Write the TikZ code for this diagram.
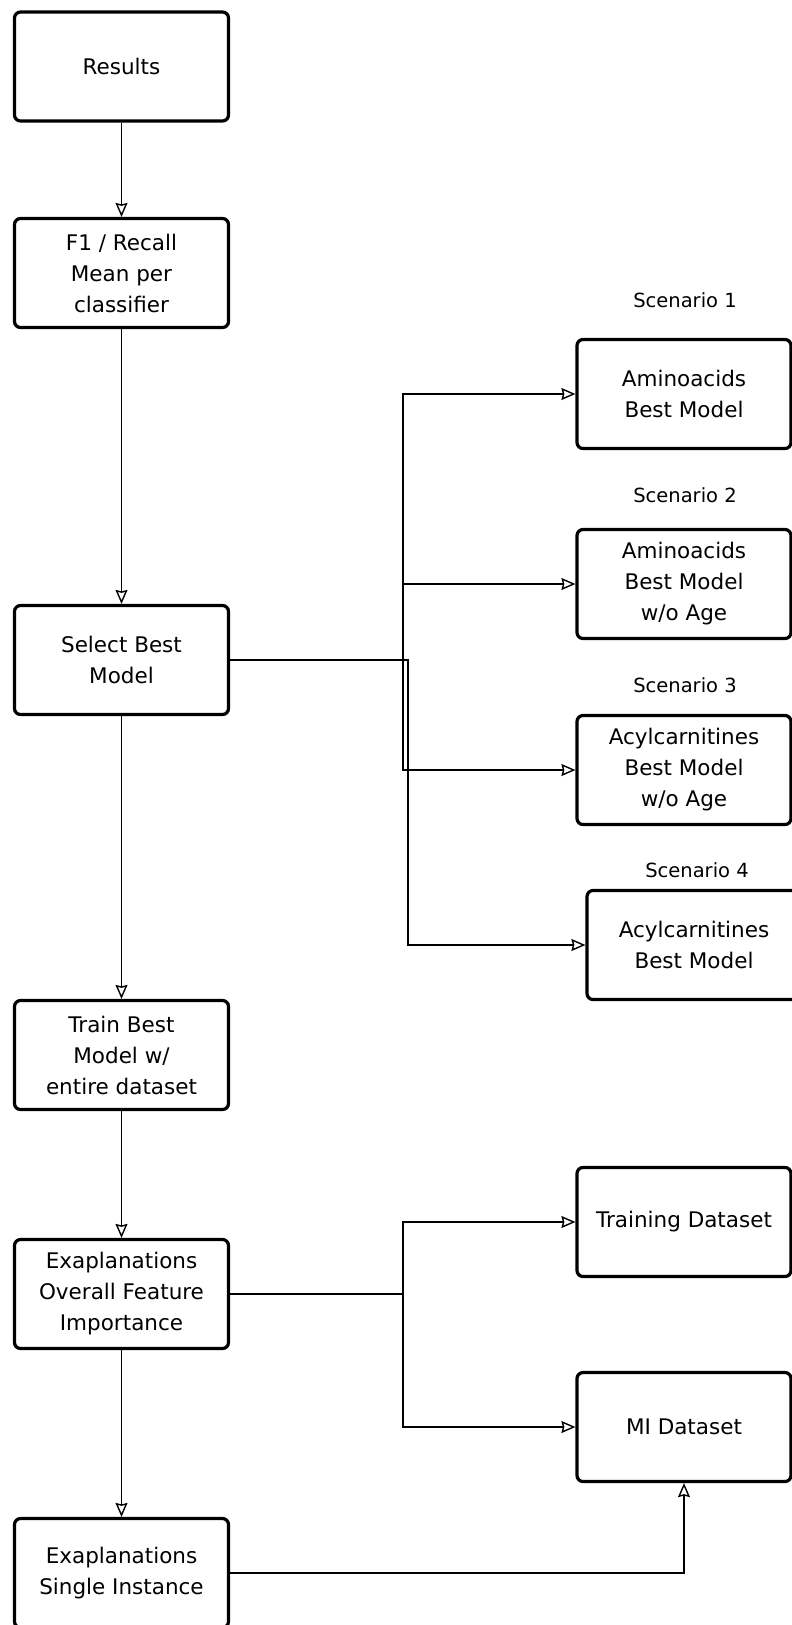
\documentclass[tikz,border=0pt]{standalone}
\usepackage{fontspec}
\setmainfont{DejaVu Sans}
\usetikzlibrary{arrows.meta,calc}
\begin{document}
\begin{tikzpicture}[x=1pt,y=-1pt,
  stepbox/.style={draw=black,line width=3.2pt,rounded corners=6pt,fill=white,
    minimum width=214pt,minimum height=109pt,align=center,inner sep=2pt,
    font=\fontsize{21.5}{31}\selectfont},
  tag/.style={font=\fontsize{19.5}{22}\selectfont},
  link/.style={draw=black,line width=1.4pt,
    -{Stealth[open,inset=1.5pt,length=14pt,width=12pt,line width=1.4pt]}}]
\useasboundingbox (0,0) rectangle (792,1625);
\clip (0,0) rectangle (792,1625);

% main column
\node[stepbox] (res)    at (121.5,66.5) {Results};
\node[stepbox] (f1)     at (121.5,273)  {F1 / Recall\\Mean per\\classifier};
\node[stepbox] (sel)    at (121.5,660)  {Select Best\\Model};
\node[stepbox] (train)  at (121.5,1055) {Train Best\\Model w/\\entire dataset};
\node[stepbox] (overall) at (121.5,1294) {Exaplanations\\Overall Feature\\Importance};
\node[stepbox] (single) at (121.5,1573) {Exaplanations\\Single Instance};

% scenarios
\node[tag] (s1) at (685,300) {Scenario 1};
\node[stepbox] (amino)   at (684,394) {Aminoacids\\Best Model};
\node[tag] (s2) at (685,495) {Scenario 2};
\node[stepbox] (aminoNA) at (684,584) {Aminoacids\\Best Model\\w/o Age};
\node[tag] (s3) at (685,685) {Scenario 3};
\node[stepbox] (acylNA)  at (684,770) {Acylcarnitines\\Best Model\\w/o Age};
\node[tag] (s4) at (697,870) {Scenario 4};
\node[stepbox] (acyl)    at (694,945) {Acylcarnitines\\Best Model};

% datasets
\node[stepbox] (trainds) at (684,1222) {Training Dataset};
\node[stepbox] (mids)    at (684,1427) {MI Dataset};

% branch points
\coordinate (bA) at (403,660);
\coordinate (bB) at (408,660);
\coordinate (bC) at (403,1294);

% vertical flow
\draw[link] (res) -- (f1);
\draw[link] (f1) -- (sel);
\draw[link] (sel) -- (train);
\draw[link] (train) -- (overall);
\draw[link] (overall) -- (single);

% scenario branches
\draw[link] (sel.east) -- (bA) |- (amino.west);
\draw[link] (sel.east) -- (bA) |- (aminoNA.west);
\draw[link] (sel.east) -- (bA) |- (acylNA.west);
\draw[link] (sel.east) -- (bB) |- (acyl.west);

% dataset branches
\draw[link] (overall.east) -- (bC) |- (trainds.west);
\draw[link] (overall.east) -- (bC) |- (mids.west);
\draw[link] (single.east) -| (mids.south);
\end{tikzpicture}
\end{document}
